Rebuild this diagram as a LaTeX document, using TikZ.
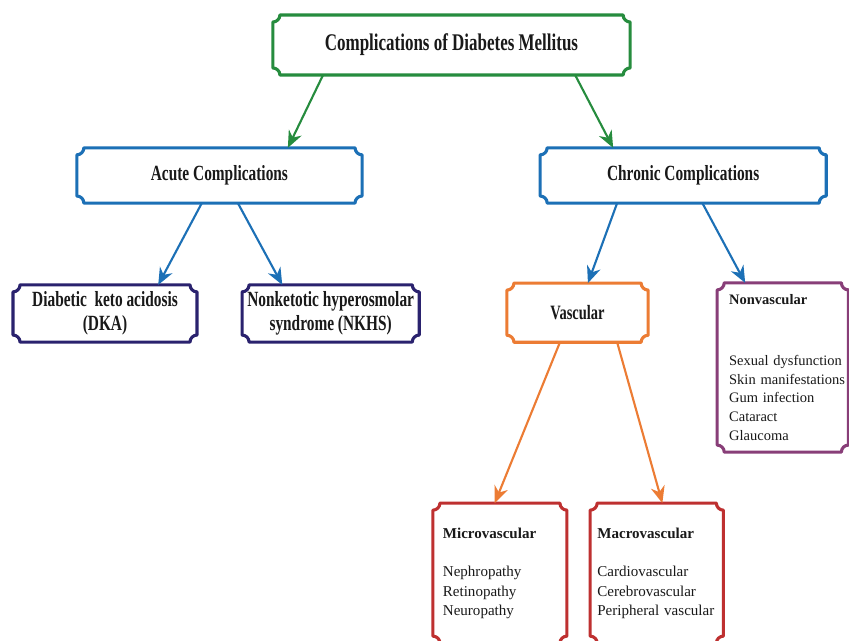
\documentclass[tikz,border=0pt]{standalone}
\usepackage{fontspec}
\setmainfont{Liberation Serif}
\newfontfamily\headfont{Liberation Serif}[FakeStretch=0.71]
\usetikzlibrary{arrows.meta, positioning}

\definecolor{leafgreen}{RGB}{38,140,62}
\definecolor{skyblue}{RGB}{28,112,182}
\definecolor{inkblue}{RGB}{42,34,110}
\definecolor{pumpkin}{RGB}{236,124,52}
\definecolor{plum}{RGB}{136,62,120}
\definecolor{brick}{RGB}{190,48,48}

\tikzstyle{chart}=[x=0.025cm, y=0.025cm, on grid, >={Stealth[length=12pt,width=10pt]}]
\tikzstyle{head}=[outer sep=0pt, inner sep=0pt, align=center, text=black!90,
  font=\headfont\bfseries\fontsize{15.4}{17.5}\selectfont]
\tikzstyle{list}=[outer sep=0pt, inner ysep=0pt, align=left, text=black!90,
  font=\fontsize{10.7}{13.7}\selectfont]
\tikzstyle{link}=[->, line width=1.5pt]

% outline with notched corners round a node
\newcommand{\plqr}{5pt}
\newcommand{\plaque}[2]{%
  \draw[line width=2.2pt, draw=#2, line join=round]
    ([xshift=\plqr]#1.north west) -- ([xshift=-\plqr]#1.north east)
    arc[start angle=180, end angle=270, radius=\plqr]
    -- ([yshift=\plqr]#1.south east)
    arc[start angle=90, end angle=180, radius=\plqr]
    -- ([xshift=\plqr]#1.south west)
    arc[start angle=0, end angle=90, radius=\plqr]
    -- ([yshift=-\plqr]#1.north west)
    arc[start angle=270, end angle=360, radius=\plqr]
    -- cycle;}

\begin{document}
\begin{tikzpicture}[chart]
  \path[use as bounding box, fill=white] (0,0) rectangle (849,-640);

  \node[head, minimum width=8.93cm, minimum height=1.5cm,
        font=\headfont\bfseries\fontsize{17}{19}\selectfont] (diabetes) at (451.5,-45)
        {Complications of Diabetes Mellitus};
  \node[head, minimum width=7.13cm, minimum height=1.38cm] (acute)
        [below left=3.26cm and 5.8cm of diabetes] {Acute Complications};
  \node[head, minimum width=7.15cm, minimum height=1.38cm] (chronic)
        [below right=3.26cm and 5.79cm of diabetes] {Chronic Complications};

  \node[head, minimum width=4.6cm, minimum height=1.43cm] (dka)
        [below left=3.45cm and 2.86cm of acute] {Diabetic\ \ keto acidosis\\(DKA)};
  \node[head, minimum width=4.43cm, minimum height=1.43cm] (nkhs)
        [below right=3.45cm and 2.78cm of acute] {Nonketotic hyperosmolar\\syndrome (NKHS)};
  \node[head, minimum width=3.53cm, minimum height=1.48cm,
        font=\headfont\bfseries\fontsize{14.5}{17}\selectfont] (vascular)
        [below left=3.43cm and 2.64cm of chronic] {Vascular};
  \node[list, inner xsep=0.3cm, text width=2.68cm, minimum height=4.23cm,
        font=\fontsize{10.3}{13.4}\selectfont] (nonvascular)
        [below right=4.8cm and 2.49cm of chronic]
        {\textbf{Nonvascular}\\[30pt]
         \mbox{Sexual dysfunction}\\ \mbox{Skin manifestations}\\ \mbox{Gum infection}\\
         Cataract\\ Glaucoma};

  \node[list, inner xsep=0.25cm, text width=2.85cm, minimum height=3.5cm] (micro)
        [below left=6.51cm and 1.94cm of vascular]
        {\textbf{Microvascular}\\[14pt] Nephropathy\\ Retinopathy\\ Neuropathy};
  \node[list, inner xsep=0.18cm, text width=2.97cm, minimum height=3.5cm] (macro)
        [below right=6.51cm and 1.98cm of vascular]
        {\textbf{Macrovascular}\\[14pt] Cardiovascular\\ Cerebrovascular\\ \mbox{Peripheral vascular}};

  % outlines
  \plaque{diabetes}{leafgreen}
  \plaque{acute}{skyblue}
  \plaque{chronic}{skyblue}
  \plaque{dka}{inkblue}
  \plaque{nkhs}{inkblue}
  \plaque{vascular}{pumpkin}
  \plaque{nonvascular}{plum}
  \plaque{micro}{brick}
  \plaque{macro}{brick}

  % arrows
  \draw[link, leafgreen] ([xshift=-3.21cm]diabetes.south) -- ([xshift=1.71cm]acute.north);
  \draw[link, leafgreen] ([xshift=3.09cm]diabetes.south) -- ([xshift=-1.75cm]chronic.north);
  \draw[link, skyblue] ([xshift=-0.44cm]acute.south) -- ([xshift=1.33cm]dka.north);
  \draw[link, skyblue] ([xshift=0.46cm]acute.south) -- ([xshift=-1.21cm]nkhs.north);
  \draw[link, skyblue] ([xshift=-1.65cm]chronic.south) -- ([xshift=0.26cm]vascular.north);
  \draw[link, skyblue] ([xshift=0.48cm]chronic.south) -- ([xshift=-0.94cm]nonvascular.north);
  \draw[link, pumpkin] ([xshift=-0.44cm]vascular.south) -- ([xshift=-0.13cm]micro.north);
  \draw[link, pumpkin] ([xshift=0.99cm]vascular.south) -- ([xshift=0.14cm]macro.north);
\end{tikzpicture}
\end{document}
